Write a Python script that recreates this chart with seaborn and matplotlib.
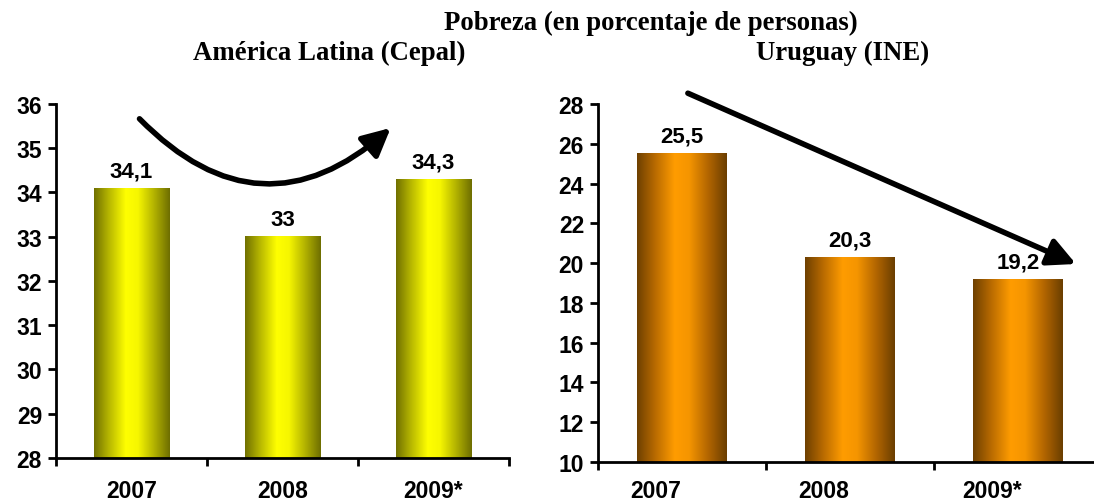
import numpy as np
import matplotlib
matplotlib.use("Agg")
import matplotlib.pyplot as plt
from matplotlib.colors import LinearSegmentedColormap
import seaborn as sns

YEARS = ["2007", "2008", "2009*"]
LATAM = [34.1, 33.0, 34.3]
LATAM_LABELS = ["34,1", "33", "34,3"]
URUGUAY = [25.5, 20.3, 19.2]
URUGUAY_LABELS = ["25,5", "20,3", "19,2"]

SANS = "Liberation Sans"
SERIF = "Liberation Serif"

sns.set_style("white")
plt.rcParams["font.family"] = [SANS, "DejaVu Sans"]
plt.rcParams["text.color"] = "black"
plt.rcParams["xtick.color"] = "black"
plt.rcParams["ytick.color"] = "black"

yellow_cmap = LinearSegmentedColormap.from_list(
    "yel", [(0, "#707000"), (0.2, "#b8b800"), (0.42, "#ffff00"),
            (0.58, "#f6f600"), (0.8, "#b0b000"), (1, "#6e6e00")])
orange_cmap = LinearSegmentedColormap.from_list(
    "ora", [(0, "#6e4000"), (0.2, "#b86a00"), (0.42, "#ff9c00"),
            (0.58, "#f59500"), (0.8, "#b06400"), (1, "#6a3e00")])


def gradient_bars(ax, cmap, ymin):
    grad = np.linspace(0, 1, 256).reshape(1, -1)
    for patch in ax.patches:
        x0, w = patch.get_x(), patch.get_width()
        top = patch.get_y() + patch.get_height()
        ax.imshow(grad, extent=[x0, x0 + w, ymin, top], aspect="auto",
                  cmap=cmap, zorder=patch.get_zorder())
        patch.set_visible(False)


def style_axis(ax, ylim, step, label_dx, label_dy):
    ax.set_xlim(-0.5, 2.5)
    ax.set_ylim(*ylim)
    ax.set_yticks(np.arange(ylim[0], ylim[1] + 0.01, step))
    for side in ["top", "right"]:
        ax.spines[side].set_visible(False)
    for side in ["left", "bottom"]:
        ax.spines[side].set_color("black")
        ax.spines[side].set_linewidth(2)
        ax.spines[side].set_zorder(5)
    ax.set_xticks([-0.5, 0.5, 1.5, 2.5])
    ax.set_xticklabels([])
    ax.tick_params(axis="x", length=6, width=2, direction="out", color="black")
    ax.tick_params(axis="y", length=6, width=2, direction="out", color="black",
                   pad=4)
    ax.tick_params(left=True, bottom=True)
    for lab in ax.get_yticklabels():
        lab.set_fontweight("bold")
        lab.set_fontsize(16.5)
        lab.set_fontfamily(SANS)
        lab.set_color("black")
    # category labels below the axis
    for i, year in enumerate(YEARS):
        ax.annotate(year, (i, 0), xycoords=ax.get_xaxis_transform(),
                    xytext=(label_dx, label_dy), textcoords="offset points",
                    ha="center", va="top", fontsize=16.5, fontweight="bold",
                    family=SANS, color="black", annotation_clip=False)
    ax.set_xlabel("")
    ax.set_ylabel("")


def value_labels(ax, values, labels):
    for i, (v, t) in enumerate(zip(values, labels)):
        ax.annotate(t, (i, v), xytext=(0, 5), textcoords="offset points",
                    ha="center", va="bottom", fontsize=16, fontweight="bold",
                    family=SANS, color="black")


fig = plt.figure(figsize=(10.94, 5.02), dpi=100)
ax1 = fig.add_axes([0.0512, 0.0857, 0.4141, 0.7052])
ax2 = fig.add_axes([0.5466, 0.0777, 0.4607, 0.7131])

sns.barplot(x=YEARS, y=LATAM, ax=ax1, width=0.5, color="#ffff00")
gradient_bars(ax1, yellow_cmap, 28)
style_axis(ax1, (28, 36), 1, 0, -15)
value_labels(ax1, LATAM, LATAM_LABELS)

sns.barplot(x=YEARS, y=URUGUAY, ax=ax2, width=0.53, color="#ff9900")
gradient_bars(ax2, orange_cmap, 10)
style_axis(ax2, (10, 28), 2, -19, -12.5)
value_labels(ax2, URUGUAY, URUGUAY_LABELS)

# trend arrows
ax1.annotate("", xy=(1.73, 35.5), xytext=(0.04, 35.71),
             arrowprops=dict(arrowstyle="-|>", lw=4, color="black",
                             mutation_scale=42,
                             connectionstyle="arc3,rad=0.48"),
             annotation_clip=False)
ax2.annotate("", xy=(2.36, 19.9), xytext=(0.02, 28.6),
             arrowprops=dict(arrowstyle="-|>", lw=4, color="black",
                             mutation_scale=42),
             annotation_clip=False)

fig.text(0.595, 0.954, "Pobreza (en porcentaje de personas)", ha="center",
         va="center", fontsize=19.3, fontweight="bold", family=SERIF)
fig.text(0.301, 0.893, "América Latina (Cepal)", ha="center", va="center",
         fontsize=19.3, fontweight="bold", family=SERIF)
fig.text(0.770, 0.893, "Uruguay (INE)", ha="center", va="center",
         fontsize=19.3, fontweight="bold", family=SERIF)

fig.savefig("out.png", dpi=100)
